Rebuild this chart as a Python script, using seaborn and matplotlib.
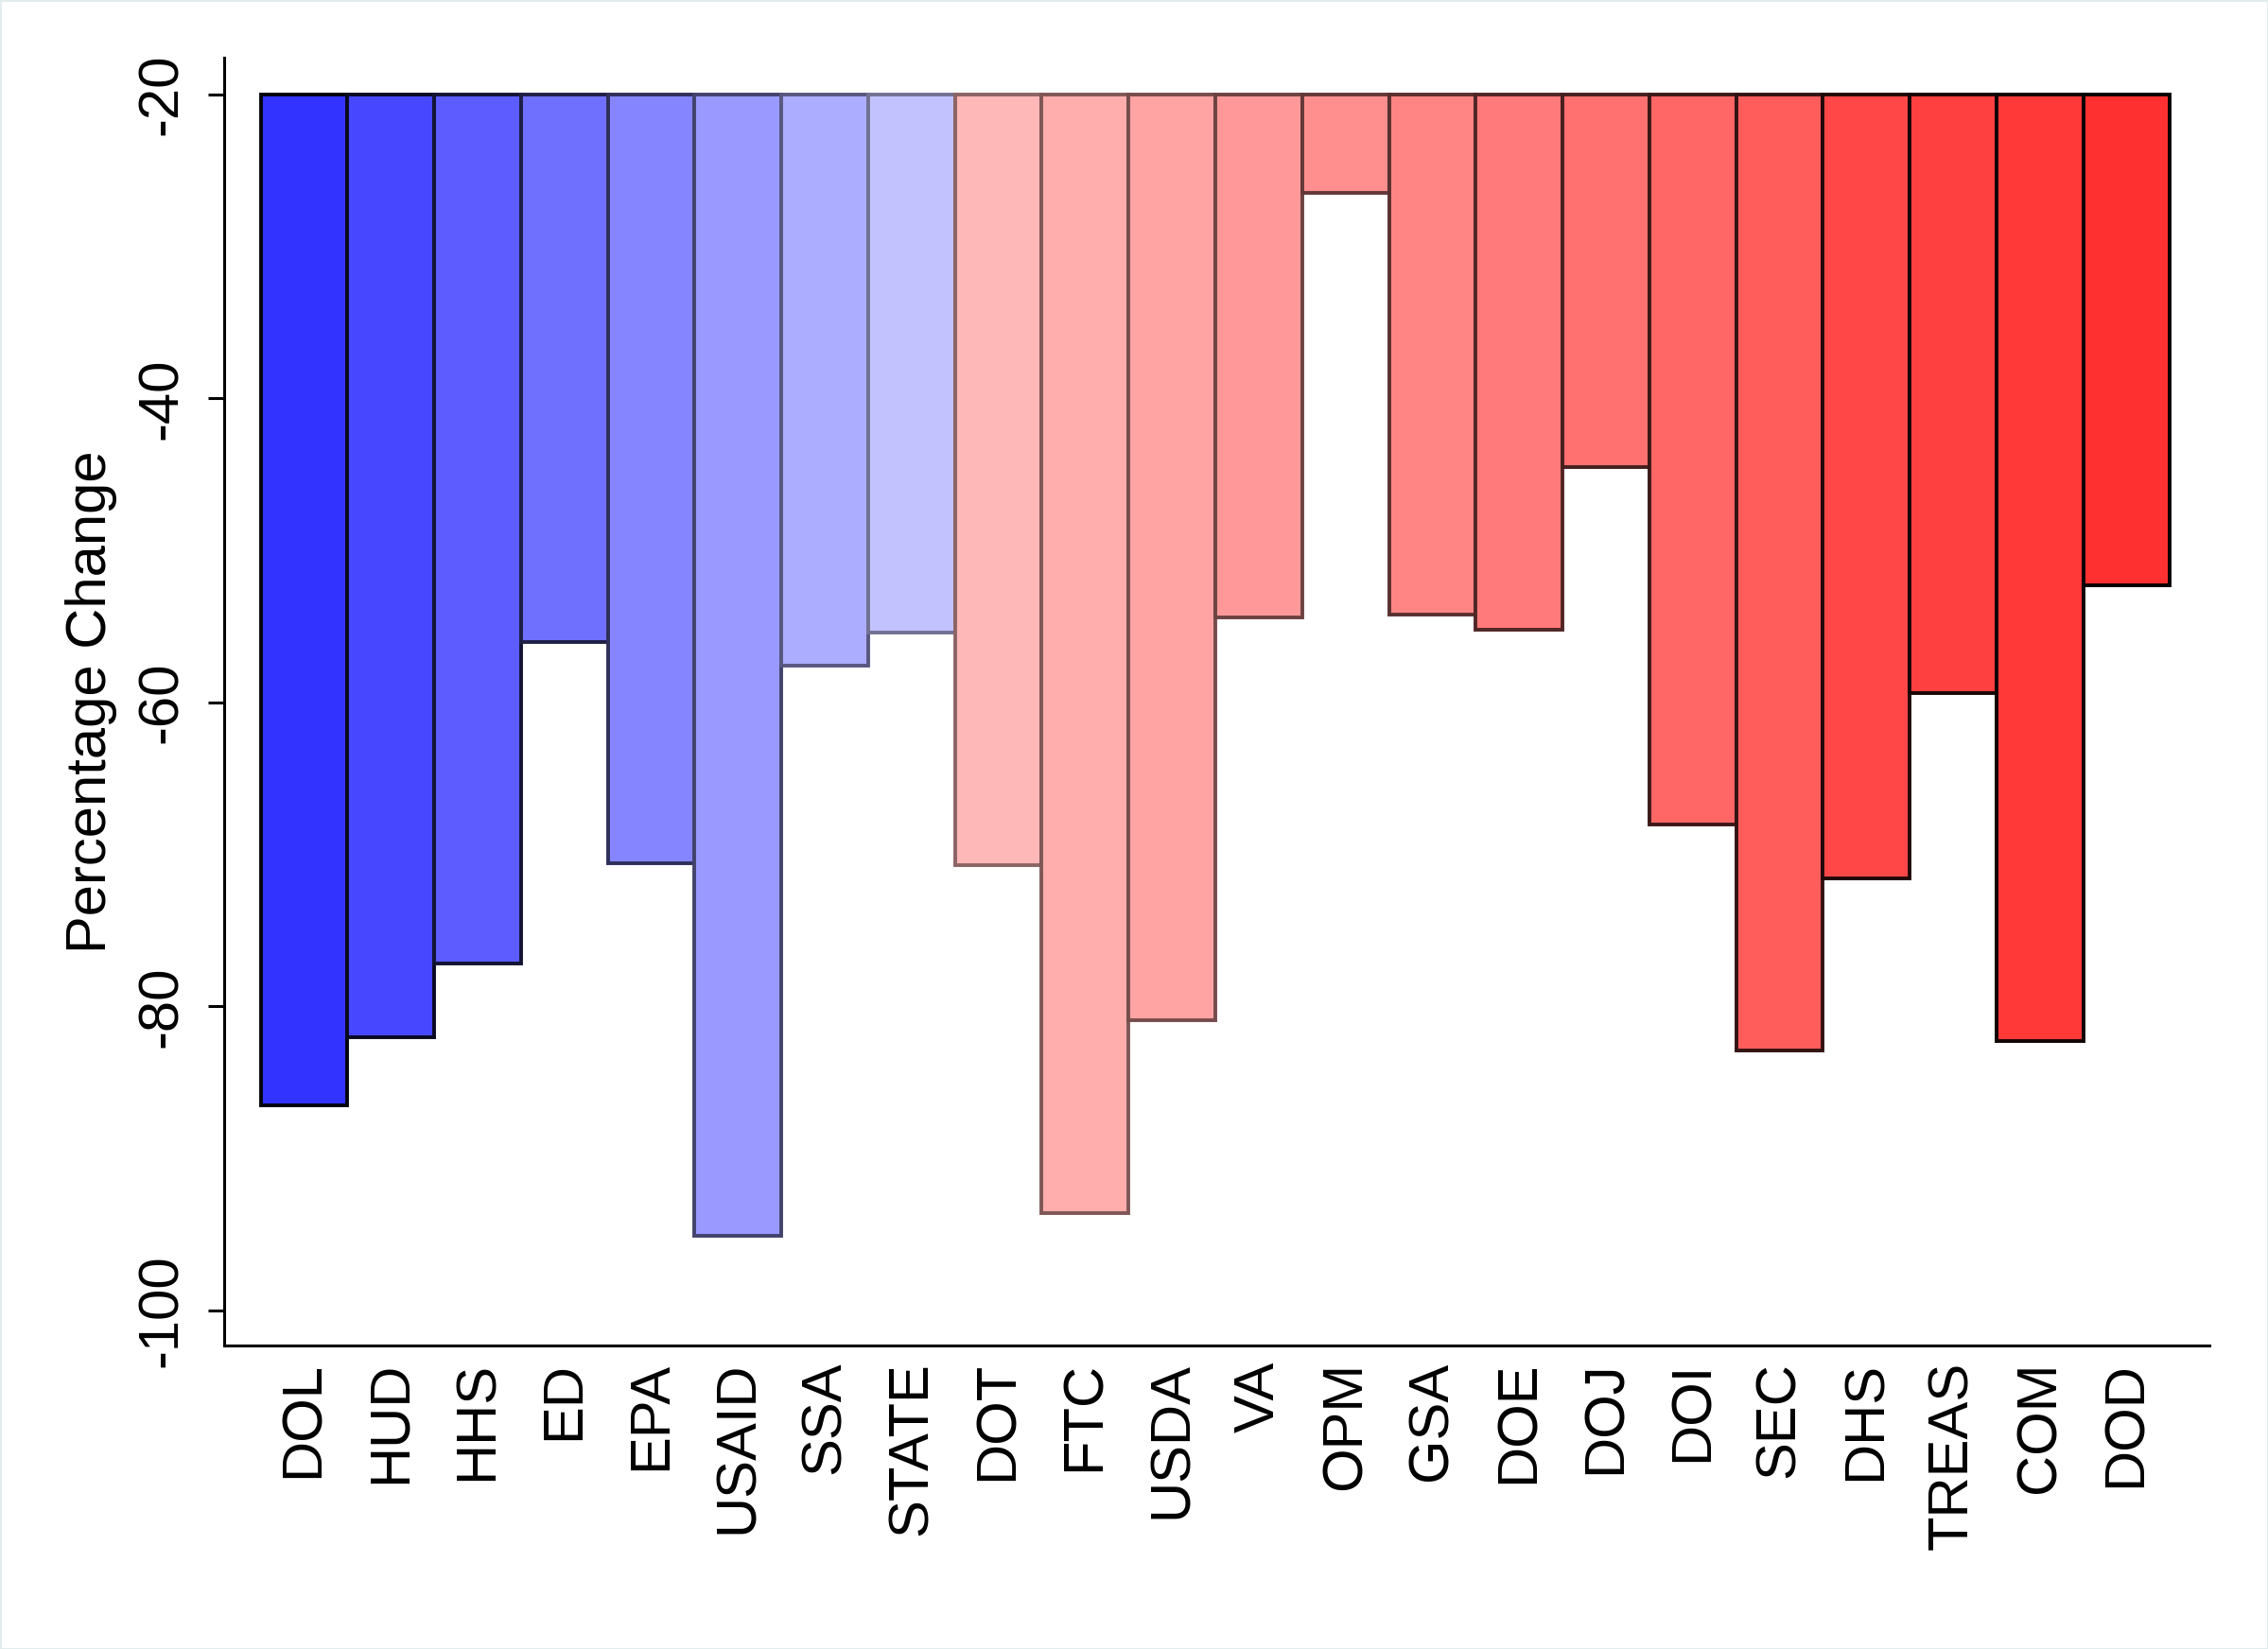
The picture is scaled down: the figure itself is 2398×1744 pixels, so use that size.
import matplotlib
matplotlib.use("Agg")
import matplotlib.pyplot as plt
import matplotlib.colors as mcolors
import numpy as np
import seaborn as sns

# values (percentage change)
agencies = ["DOL", "HUD", "HHS", "ED", "EPA", "USAID", "SSA", "STATE",
            "DOT", "FTC", "USDA", "VA", "OPM", "GSA", "DOE", "DOJ",
            "DOI", "SEC", "DHS", "TREAS", "COM", "DOD"]
pct_change = [-86.5, -82.0, -77.2, -56.0, -70.6, -95.1, -57.6, -55.4,
              -70.7, -93.6, -80.9, -54.4, -26.5, -54.2, -55.2, -44.5,
              -68.0, -82.9, -71.6, -59.4, -82.3, -52.3]
y_ticks = [-100, -80, -60, -40, -20]

BASE = -20  # bars hang down from the -20 line

fills = ["#3333ff", "#4747ff", "#5c5cff", "#7070ff", "#8585ff", "#9999ff", "#adadff", "#c2c2ff",
         "#ffb8b8", "#ffadad", "#ffa3a3", "#ff9999", "#ff8f8f", "#ff8585", "#ff7a7a", "#ff7070",
         "#ff6666", "#ff5c5c", "#ff4747", "#ff4040", "#ff3838", "#ff3030"]


def edge_for(fill):
    # darker outline for more saturated fills
    rgb = np.array(mcolors.to_rgb(fill))
    s = np.clip((0.76 - rgb.min()) / (0.76 - 0.19), 0, 1)
    t = 0.42 + 0.54 * s
    return tuple(rgb * (1 - t))


sns.set_style("white")
plt.rcParams["font.family"] = ["Liberation Sans", "DejaVu Sans"]
plt.rcParams.update({
    "text.color": "black",
    "axes.labelcolor": "black",
    "xtick.color": "black",
    "ytick.color": "black",
})

fig = plt.figure(figsize=(11.99, 8.72), dpi=200)
fig.patch.set_edgecolor("#e3ecec")
fig.patch.set_linewidth(1)
ax = fig.add_axes([0.099, 0.184, 0.875, 0.781])

heights = [v - BASE for v in pct_change]
sns.barplot(x=agencies, y=heights, hue=agencies, palette=fills, legend=False,
            width=1.0, bottom=BASE, linewidth=1.4, saturation=1, ax=ax)

for patch, col in zip(ax.patches, fills):
    patch.set_edgecolor(edge_for(col))

ax.set_xlim(-0.917, 21.95)
ax.set_ylim(-102.3, -17.6)
ax.set_yticks(y_ticks)
ax.set_yticklabels([str(t) for t in y_ticks], rotation=90, va="center")
ax.set_ylabel("Percentage Change", fontsize=21.5, labelpad=7)
ax.set_xlabel("")

ax.tick_params(axis="y", length=6, width=1.1, pad=8, labelsize=21.5, left=True)
ax.tick_params(axis="x", length=0, pad=6, labelsize=21.5, labelrotation=90)

sns.despine(ax=ax)
for side in ["left", "bottom"]:
    ax.spines[side].set_linewidth(1.1)
    ax.spines[side].set_color("black")

fig.savefig("out.png", dpi=200, facecolor="white", edgecolor=fig.patch.get_edgecolor())
